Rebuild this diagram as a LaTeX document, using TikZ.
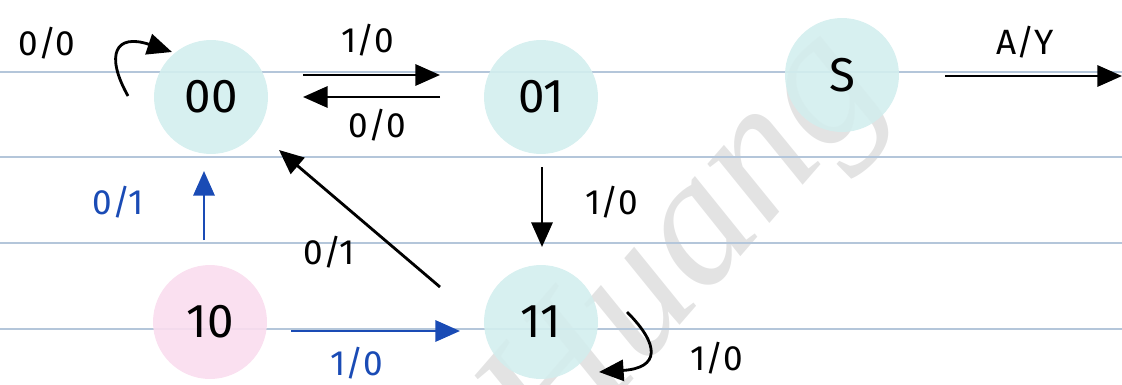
\documentclass[tikz,border=0pt]{standalone}
\usepackage{fontspec}
\setmainfont{Fira Sans}
\newfontfamily\wmfont{Liberation Serif}
\usetikzlibrary{arrows.meta}
\definecolor{rule}{HTML}{B4C6DA}
\definecolor{teal}{HTML}{D3EEEE}
\definecolor{pinkfill}{HTML}{FADDEE}
\definecolor{penblue}{HTML}{1A4BB5}
\tikzset{
  state/.style={circle, minimum size=2.28cm, inner sep=0pt, fill=teal, fill opacity=0.9, text opacity=1, font=\fontsize{27}{30}\selectfont},
  arr/.style={line width=1.6pt, -{Triangle[length=14pt,width=12pt]}},
  barr/.style={arr, draw=penblue},
  lbl/.style={font=\fontsize{20}{24}\selectfont, inner sep=0pt},
  blbl/.style={lbl, text=penblue},
  ruleline/.style={draw=rule, line width=1.1pt}
}
\begin{document}
\begin{tikzpicture}[x=0.02cm,y=-0.02cm]
\path[use as bounding box] (0,0) rectangle (1122,385);
% watermark
\node[rotate=49, text=black!11, font=\wmfont\itshape\fontsize{106}{110}\selectfont] (wm) at (690,252) {Huang};
% ruled lines
\foreach \yy in {72,157,243,329} \draw[ruleline] (0,\yy) -- (1122,\yy);
% states
\node[state] (n00) at (211,97) {00};
\node[state] (n01) at (541,97) {01};
\node[state] (nS) at (842,75) {S};
\node[state, fill=pinkfill] (n10) at (210,322) {10};
\node[state] (n11) at (541,322) {11};
\coordinate (out) at (1122,76);
% connectors
\draw[arr] ([shift={(-83,-1)}]n00.center) .. controls ([shift={(-106,-42)}]n00.center) and ([shift={(-96,-64)}]n00.center) .. ([shift={(-39,-45)}]n00.center);
\draw[arr] ([shift={(92,-22)}]n00.center) -- ([shift={(-101,-22)}]n01.center);
\draw[arr] ([shift={(-101,0)}]n01.center) -- ([shift={(92,0)}]n00.center);
\draw[arr] ([shift={(1,70)}]n01.center) -- ([shift={(1,-75)}]n11.center);
\draw[arr] ([shift={(-101,-35)}]n11.center) -- ([shift={(68,53)}]n00.center);
\draw[barr] ([shift={(-6,-82)}]n10.center) -- ([shift={(-7,74)}]n00.center);
\draw[barr] ([shift={(81,9)}]n10.center) -- ([shift={(-81,9)}]n11.center);
\draw[arr] ([shift={(86,-10)}]n11.center) .. controls ([shift={(119,23)}]n11.center) and ([shift={(119,46)}]n11.center) .. ([shift={(58,50)}]n11.center);
\draw[arr] ([shift={(103,1)}]nS.center) -- (out);
% labels
\node[lbl] (l1) at (47,43) {0/0};
\node[lbl] (l2) at (368,40) {1/0};
\node[lbl] (l3) at (377,125) {0/0};
\node[lbl] (l4) at (1025,42) {A/Y};
\node[blbl] (l5) at (118,202) {0/1};
\node[lbl] (l6) at (612,202) {1/0};
\node[lbl] (l7) at (329,252) {0/1};
\node[blbl] (l8) at (357,363) {1/0};
\node[lbl] (l9) at (717,358) {1/0};
\end{tikzpicture}
\end{document}
